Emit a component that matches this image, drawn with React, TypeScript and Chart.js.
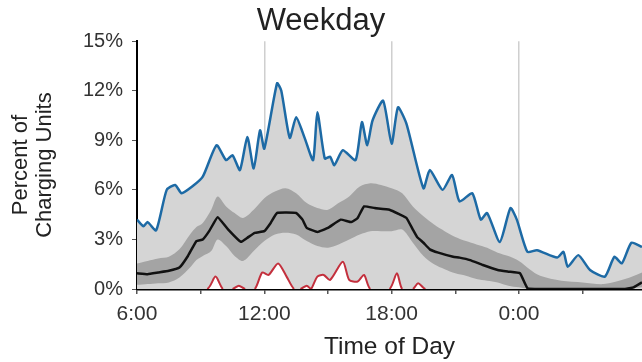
import React, { useEffect, useRef } from "react";
import { Chart, registerables } from "chart.js";

Chart.register(...registerables);

// Hours of day (6 = 6:00, 24 = 0:00 next day, 29.8 ≈ 5:48 next day)
const maxHours = [6.0, 6.3, 6.5, 6.9, 7.4, 7.8, 8.1, 8.6, 9.1, 9.75, 10.2, 10.5, 10.85, 11.2, 11.5, 11.8, 12.0, 12.6, 12.8, 13.2, 13.5, 13.9, 14.3, 14.5, 14.85, 15.1, 15.3, 15.7, 16.3, 16.6, 16.85, 17.1, 17.6, 18.0, 18.3, 18.7, 19.5, 19.8, 20.4, 20.85, 21.2, 21.8, 22.2, 22.5, 23.1, 23.6, 23.9, 24.4, 24.85, 25.8, 26.1, 26.3, 26.8, 27.35, 28.05, 28.5, 28.85, 29.3, 29.8];
const maxValues = [4.2, 3.8, 4.05, 3.55, 6.0, 6.3, 5.8, 6.2, 6.8, 8.7, 7.8, 8.1, 7.2, 9.2, 7.3, 9.6, 8.5, 12.45, 12.0, 9.15, 10.4, 9.15, 7.8, 10.7, 7.9, 8.0, 7.5, 8.4, 7.8, 10.1, 8.7, 10.2, 11.4, 8.8, 11.0, 10.0, 6.1, 7.2, 6.0, 6.9, 5.3, 5.8, 4.2, 4.6, 2.85, 4.9, 4.2, 2.25, 2.35, 1.9, 2.25, 1.35, 2.05, 1.15, 0.75, 1.95, 1.55, 2.8, 2.55];

const bandHours = [6, 6.5, 7, 7.5, 8, 8.5, 8.8, 9.1, 9.5, 9.8, 10.2, 10.6, 11, 11.5, 12, 12.5, 13, 13.5, 14, 14.5, 15, 15.5, 16, 16.5, 17, 17.5, 18, 18.5, 19, 19.5, 20, 20.5, 21, 21.5, 22, 22.5, 23, 23.5, 24, 24.5, 25, 26, 27, 28, 29, 29.8];
const bandUpper = [1.55, 1.7, 1.85, 1.95, 2.4, 3.3, 3.75, 4.0, 4.8, 5.6, 5.0, 4.6, 4.3, 4.8, 5.5, 5.9, 6.1, 5.8, 5.2, 4.9, 4.8, 5.2, 5.6, 6.2, 6.4, 6.3, 6.1, 5.8, 5.0, 4.4, 3.9, 3.5, 3.15, 2.9, 2.7, 2.5, 2.2, 2.0, 1.7, 1.2, 0.8, 0.5, 0.4, 0.3, 0.6, 1.0];
const bandLower = [0.25, 0.3, 0.35, 0.4, 0.7, 1.3, 1.75, 2.0, 2.3, 3.0, 2.6, 2.0, 1.7, 2.3, 2.9, 3.3, 3.4, 3.3, 2.9, 2.6, 2.5, 2.7, 3.0, 3.3, 3.5, 3.5, 3.5, 3.6, 2.8, 2.0, 1.5, 1.2, 0.95, 0.8, 0.6, 0.5, 0.4, 0.2, 0.1, 0, 0, 0, 0, 0, 0, 0.1];

const medianHours = [6, 6.5, 7, 7.5, 8, 8.4, 8.8, 9.1, 9.4, 9.8, 10.3, 10.9, 11.2, 11.55, 12, 12.3, 12.6, 13.5, 13.8, 14, 14.5, 15, 15.6, 16.1, 16.4, 16.7, 17.2, 17.9, 18.4, 18.7, 19, 19.2, 19.5, 19.8, 20.2, 20.9, 21.2, 21.7, 22.3, 23, 23.5, 24.05, 24.4, 25, 26, 27, 28, 29, 29.4, 29.8];
const medianValues = [0.95, 0.9, 1.0, 1.1, 1.3, 2.0, 2.9, 3.0, 3.5, 4.35, 3.6, 2.85, 3.1, 3.4, 3.5, 4.0, 4.6, 4.6, 4.2, 3.7, 3.45, 3.7, 4.2, 4.05, 4.3, 5.0, 4.9, 4.8, 4.5, 4.3, 3.6, 3.15, 2.8, 2.4, 2.2, 1.95, 1.9, 1.75, 1.45, 1.15, 1.05, 0.95, 0.05, 0, 0, 0, 0, 0, 0.1, 0.4];

const minHours = [6, 9.3, 9.7, 10.05, 10.5, 10.8, 11.1, 11.55, 11.9, 12.2, 12.65, 13.05, 13.4, 13.7, 14.0, 14.2, 14.5, 14.8, 15.1, 15.7, 16.0, 16.4, 16.7, 17.0, 17.9, 18.25, 18.5, 19.0, 19.25, 19.6, 29.8];
const minValues = [0, 0, 0.75, 0, 0, 0.2, 0, 0, 1.0, 0.85, 1.55, 0.75, 0, 0, 0.2, 0, 0.75, 0.85, 0.55, 1.65, 0.55, 0.45, 0.85, 0, 0, 0.95, 0, 0, 0.35, 0, 0];

const xTicks = [6, 9, 12, 15, 18, 21, 24, 27];
const yTicks = [0, 3, 6, 9, 12, 15];
const gridHours = [12, 18, 24];

const pts = (xs: number[], ys: number[]) => xs.map((x, i) => ({ x, y: ys[i] }));
const FONT = "'Liberation Sans', Arial, sans-serif";

export default function App() {
  const ref = useRef<HTMLCanvasElement | null>(null);
  useEffect(() => {
    if (!ref.current) return;
    const chart = new Chart(ref.current, {
      type: "line",
      data: {
        datasets: [
          {
            label: "min",
            data: pts(minHours, minValues),
            borderColor: "#c3303d",
            borderWidth: 2,
            backgroundColor: "#ffffff",
            fill: "origin",
            pointRadius: 0,
            tension: 0.25,
            segment: {
              borderColor: (c: any) =>
                c.p0.parsed.y === 0 && c.p1.parsed.y === 0 ? "rgba(0,0,0,0)" : undefined,
            },
          },
          {
            label: "median",
            data: pts(medianHours, medianValues),
            borderColor: "#111111",
            borderWidth: 2.5,
            fill: false,
            pointRadius: 0,
            tension: 0.1,
          },
          {
            label: "upper",
            data: pts(bandHours, bandUpper),
            borderColor: "rgba(0,0,0,0)",
            borderWidth: 0,
            backgroundColor: "#a4a4a4",
            fill: 3,
            pointRadius: 0,
            tension: 0.3,
          },
          {
            label: "lower",
            data: pts(bandHours, bandLower),
            borderColor: "rgba(0,0,0,0)",
            borderWidth: 0,
            fill: false,
            pointRadius: 0,
            tension: 0.3,
          },
          {
            label: "max",
            data: pts(maxHours, maxValues),
            borderColor: "#1d6aa5",
            borderWidth: 2.5,
            backgroundColor: "#d5d5d5",
            fill: "origin",
            pointRadius: 0,
            tension: 0.2,
          },
        ],
      },
      options: {
        responsive: false,
        animation: false,
        layout: { padding: 0 },
        plugins: {
          legend: { display: false },
          tooltip: { enabled: false },
          title: {
            display: true,
            text: "Weekday",
            color: "#222",
            font: { family: FONT, size: 31, weight: "normal" },
            padding: { top: 3, bottom: 1 },
          },
        },
        scales: {
          x: {
            type: "linear",
            min: 6,
            max: 29.8,
            z: 1,
            afterBuildTicks: (s: any) => {
              s.ticks = xTicks.map((v) => ({ value: v }));
            },
            afterFit: (s: any) => {
              s.height = 73;
            },
            ticks: {
              color: "#333",
              font: { family: FONT, size: 21 },
              padding: 8,
              maxRotation: 0,
              autoSkip: false,
              callback: (v: any) => (Number(v) % 6 === 0 ? `${Number(v) % 24}:00` : ""),
            },
            grid: {
              drawOnChartArea: true,
              drawTicks: true,
              tickLength: 5,
              tickColor: "#555",
              lineWidth: 1.5,
              color: (c: any) =>
                gridHours.includes(c.tick?.value) ? "rgba(175,175,175,0.6)" : "rgba(0,0,0,0)",
            },
            border: { color: "#000", width: 2.5 },
            title: {
              display: true,
              text: "Time of Day",
              color: "#222",
              font: { family: FONT, size: 24.5 },
              padding: { top: 0, bottom: 0 },
            },
          },
          y: {
            min: 0,
            max: 15,
            z: 1,
            afterBuildTicks: (s: any) => {
              s.ticks = yTicks.map((v) => ({ value: v }));
            },
            afterFit: (s: any) => {
              s.width = 137;
            },
            ticks: {
              color: "#333",
              font: { family: FONT, size: 20 },
              padding: 9,
              callback: (v: any) => `${v}%`,
            },
            grid: {
              drawOnChartArea: false,
              drawTicks: true,
              tickLength: 5,
              tickColor: "#555",
            },
            border: { color: "#000", width: 2 },
            title: {
              display: true,
              text: ["Percent of", "Charging Units"],
              color: "#222",
              font: { family: FONT, size: 22, lineHeight: 1.09 },
              padding: { top: 9, bottom: 0 },
            },
          },
        },
      },
    });
    return () => chart.destroy();
  }, []);

  return (
    <div style={{ position: "absolute", left: 0, top: 0, width: 642, height: 362, background: "#fff" }}>
      <canvas ref={ref} width={642} height={362} />
    </div>
  );
}
